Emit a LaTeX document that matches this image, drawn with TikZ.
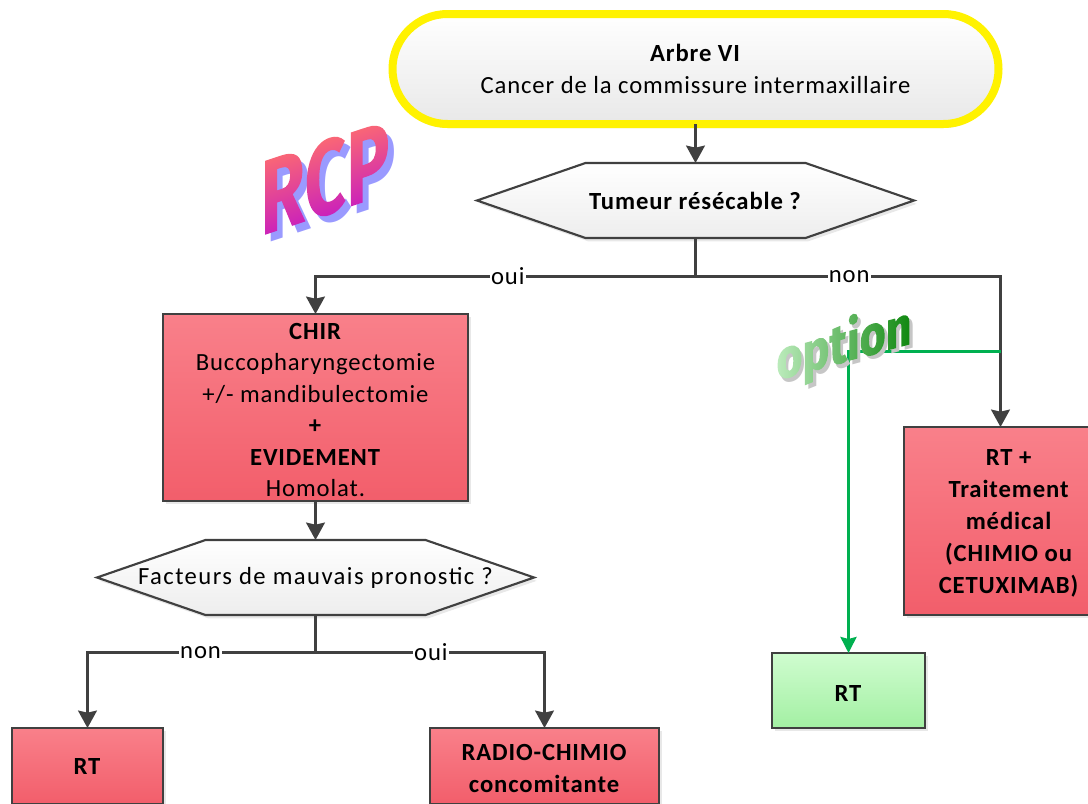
\documentclass[tikz,border=0pt]{standalone}
\usepackage{fontspec}
\setmainfont[LetterSpace=3.6]{Carlito}
\newfontfamily\rcpfont{Fira Sans}
\newfontfamily\optfont{Fira Sans ExtraBold}
\usetikzlibrary{shadows,arrows.meta}
\definecolor{linegrey}{HTML}{404040}
\definecolor{redtop}{HTML}{F9808A}
\definecolor{redbot}{HTML}{F25E6B}
\definecolor{greentop}{HTML}{CFFCCF}
\definecolor{greenbot}{HTML}{A3F0A3}
\definecolor{optgreen}{HTML}{00B050}
\definecolor{rcptop}{HTML}{FF6E6E}
\definecolor{rcpbot}{HTML}{C81EBE}
\definecolor{rcpshadow}{HTML}{9A9AFF}
\definecolor{optleft}{HTML}{D2F8D2}
\definecolor{optright}{HTML}{0E870E}
\newlength{\px}\setlength{\px}{0.75pt}
\newcommand{\pushd}{\rule{0pt}{16pt}}
\tikzset{
  x=0.75pt,y=-0.75pt,
  every node/.style={font=\fontsize{18.5pt}{23.6pt}\selectfont,align=center,inner sep=0pt,outer sep=0pt},
  softshadow/.style={drop shadow={opacity=.18,shadow xshift=2pt,shadow yshift=-2.5pt}},
  redbox/.style={draw=linegrey,line width=1.6pt,top color=redtop,bottom color=redbot,softshadow},
  greenbox/.style={draw=linegrey,line width=1.6pt,top color=greentop,bottom color=greenbot,softshadow},
  hexfill/.style={draw=linegrey,line width=1.6pt,top color=white,bottom color=black!7,softshadow},
  hextext/.style={minimum width=436\px,minimum height=75\px},
  startbox/.style={rounded corners=55\px,draw=yellow,line width=6pt,top color=white,bottom color=black!9,
    minimum width=606\px,minimum height=110\px,
    drop shadow={opacity=.25,shadow xshift=0pt,shadow yshift=-3pt}},
  conn/.style={draw=linegrey,line width=2.25pt,-{Stealth[length=13pt,width=14pt,inset=1.5pt]}},
  plain/.style={draw=linegrey,line width=2.25pt},
  optline/.style={draw=optgreen,line width=2.25pt},
  lab/.style={fill=white,inner xsep=1pt,inner ysep=0pt},
  rcpword/.style={font=\rcpfont\bfseries\fontsize{80pt}{80pt}\selectfont,transform shape,yslant=.33,xscale=.68},
  optword/.style={font=\optfont\fontsize{42pt}{42pt}\selectfont,transform shape,yslant=.27,xscale=.8}
}
\newcommand{\hexshape}[2]{%
  \path[hexfill] (#1-218.5,#2) -- (#1-110,#2-37.5) -- (#1+110,#2-37.5) -- (#1+218.5,#2) -- (#1+110,#2+37.5) -- (#1-110,#2+37.5) -- cycle;}
\begin{document}
\begin{tikzpicture}
\clip (0,0) rectangle (1088,803);
% nodes
\node[startbox] (start) at (695.5,69) {\textbf{Arbre VI}\\Cancer de la commissure intermaxillaire};
\hexshape{695.5}{200.5}
\node[hextext] (tumeur) at (695.5,200.5) {\textbf{Tumeur résécable ?}};
\node[redbox,minimum width=305\px,minimum height=187\px] (chir) at (315.5,407.5)
  {\pushd\textbf{CHIR}\\Buccopharyngectomie\\+/- mandibulectomie\\\textbf{+}\\\textbf{EVIDEMENT}\\Homolat.};
\hexshape{315.5}{577.5}
\node[hextext] (facteurs) at (315.5,577.5) {\addfontfeature{LetterSpace=5.8}Facteurs de mauvais pronostic ?};
\node[redbox,minimum width=151\px,minimum height=76\px] (rtleft) at (87.5,766) {\textbf{RT}};
\node[redbox,minimum width=229\px,minimum height=76\px] (radio) at (544.5,766) {\pushd\textbf{RADIO-CHIMIO}\\\textbf{concomitante}};
\node[redbox,minimum width=210\px,minimum height=188\px] (rtmed) at (1009,521)
  {\pushd\textbf{RT +}\\[.4pt]\textbf{Traitement}\\[.4pt]\textbf{médical}\\[.4pt]\textbf{(CHIMIO ou}\\[.4pt]\textbf{CETUXIMAB)}};
\node[greenbox,minimum width=153\px,minimum height=75\px] (rtgreen) at (848.5,690.5) {\pushd\textbf{RT}};
% junctions
\coordinate (j1) at (695.5,276.5);
\coordinate (j2) at (315.5,652.5);
\coordinate (j3) at (1000.5,351.5);
\coordinate (j4) at (848.5,351.5);
% connectors
\draw[conn] (start.south) -- (tumeur.north);
\draw[plain] (tumeur.south) -- (j1);
\draw[conn] (j1) -| node[lab,pos=0.247] {oui} (chir.north);
\draw[conn] (j1) -| node[lab,pos=0.252] {non} (rtmed.north -| j3);
\draw[conn] (chir.south) -- (facteurs.north);
\draw[plain] (facteurs.south) -- (j2);
\draw[conn] (j2) -| node[lab,pos=0.252] {non} (rtleft.north);
\draw[conn] (j2) -| node[lab,pos=0.252] {oui} (radio.north);
\draw[optline,-{Stealth[length=12pt,width=12pt,inset=1.5pt]}] (j3) -- (j4) -- (rtgreen.north);
% decorated words
\node[text=rcpshadow,rcpword] (rcps) at (331,185) {RCP};
\node[rcpword] (rcpw) at (325,178) {%
  \special{pdf:code 7 Tr}RCP\special{pdf:code 0 Tr}%
  \smash{\llap{\tikz[baseline=0pt]\shade[top color=rcptop,bottom color=rcpbot] (0,-84) rectangle (240,6);}}};
\node[text=gray!45,optword] (opts) at (847.5,349.5) {option};
\node[optword] (optw) at (844,345.5) {%
  \special{pdf:code 7 Tr}option\special{pdf:code 0 Tr}%
  \smash{\llap{\tikz[baseline=0pt]\shade[left color=optleft,right color=optright] (0,-60) rectangle (190,20);}}};
\end{tikzpicture}
\end{document}
